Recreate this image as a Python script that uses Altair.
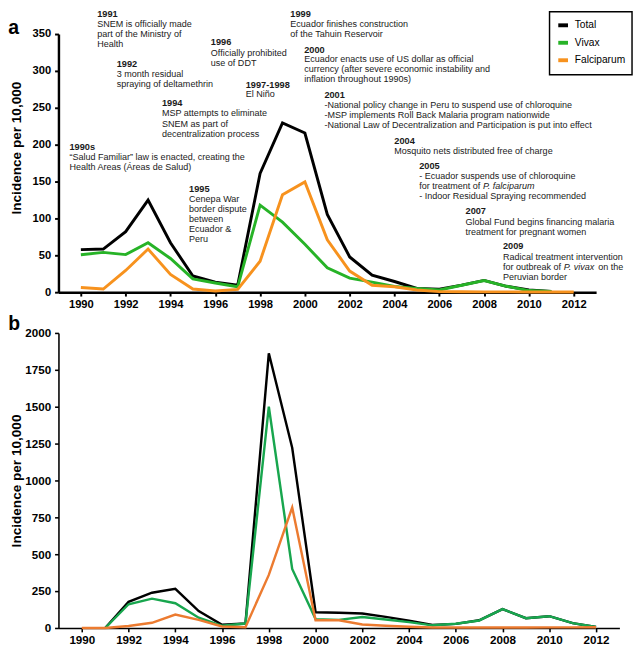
import altair as alt
import pandas as pd

FONT = "Liberation Sans"

years = list(range(1990, 2013))
series_names = ["Total", "Vivax", "Falciparum"]

# Panel a (incidence per 10,000)
total_a = [57.7, 58.5, 82, 124.8, 67, 22, 13.7, 9.4, 161, 229.5, 215.8, 105.5, 47.8, 23, 14.5, 5, 4, 9.5, 16, 8, 3, 1, None]
vivax_a = [50.8, 54, 51, 67, 45.7, 18, 12.4, 7.3, 118, 95, 65, 33, 19, 13.7, 7.7, 5, 3, 9.4, 15.8, 8, 2.2, 1, None]
falci_a = [6.4, 4.3, 29.5, 58.5, 24, 4.3, 1.7, 3.8, 42, 132, 149.5, 71, 28.6, 9.4, 7.3, 3, 0.8, 0.5, 0.4, 0.4, 0.3, 0.3, 0.3]

# Panel b (incidence per 10,000)
total_b = [None, 0, 177, 239, 265, 115, 22, 30, 1862, 1222, 107, 103, 98, 75, 50, 20, 28, 52, 128, 66, 80, 33, 7]
vivax_b = [None, 0, 161, 199, 168, 70, 15, 30, 1500, 400, 60, 55, 75, 58, 40, 18, 29, 51, 128, 66, 80, 33, 7]
falci_b = [0, 0, 13, 35, 91, 55, 10, 5, 360, 817, 52, 52, 24, 15, 8, 3, 3, 3, 3, 3, 4, 4, 5]

colors_a = ["#000000", "#27b327", "#f7921e"]
colors_b = ["#000000", "#18a64e", "#ec7b30"]

# Panel letters (placed in each panel's data space)
letter_a = {"text": ["a"], "year": [1987.0], "value": [358]}
letter_b = {"text": ["b"], "year": [1987.1], "value": [2062]}

# Annotations of panel a: headers
head_text = ["1991", "1992", "1996", "1997-1998", "1994", "1990s", "1995",
             "1999", "2000", "2001", "2004", "2005", "2007", "2009"]
head_year = [1990.73, 1991.6, 1995.8, 1997.36, 1993.62, 1989.49, 1994.83,
             1999.35, 1999.97, 2000.87, 2003.99, 2005.1, 2007.17, 2008.84]
head_value = [377, 309, 338.5, 280.8, 256.4, 196.2, 139.7,
              377, 328.6, 267, 204.7, 170.9, 109.9, 62.8]

# Annotation body lines
body_text = [
    "SNEM is officially made", "part of the Ministry of", "Health",
    "3 month residual", "spraying of deltamethrin",
    "Officially prohibited", "use of DDT",
    "El Niño",
    "MSP attempts to eliminate", "SNEM as part of", "decentralization process",
    "\u201cSalud Familiar\u201d law is enacted, creating the", "Health Areas (Áreas de Salud)",
    "Cenepa War", "border dispute", "between", "Ecuador &", "Peru",
    "Ecuador finishes construction", "of the Tahuin Reservoir",
    "Ecuador enacts use of US dollar as official",
    "currency (after severe economic instability and",
    "inflation throughout 1990s)",
    "-National policy change in Peru to suspend use of chloroquine",
    "-MSP implements Roll Back Malaria program nationwide",
    "-National Law of Decentralization and Participation is put into effect",
    "Mosquito nets distributed free of charge",
    "- Ecuador suspends use of chloroquine", "for treatment of",
    "- Indoor Residual Spraying recommended",
    "Global Fund begins financing malaria", "treatment for pregnant women",
    "Radical treatment intervention", "for outbreak of", "on the", "Peruvian border",
]
body_year = [
    1990.73, 1990.73, 1990.73,
    1991.6, 1991.6,
    1995.8, 1995.8,
    1997.36,
    1993.62, 1993.62, 1993.62,
    1989.49, 1989.49,
    1994.83, 1994.83, 1994.83, 1994.83, 1994.83,
    1999.35, 1999.35,
    1999.97, 1999.97, 1999.97,
    2000.87, 2000.87, 2000.87,
    2003.99,
    2005.1, 2005.1, 2005.1,
    2007.17, 2007.17,
    2008.84, 2008.84, 2013.09, 2008.84,
]
body_value = [
    363.2, 350, 336.8,
    295.8, 282,
    324.4, 310.3,
    268,
    242.3, 228.2, 214.5,
    183.3, 169.6,
    125.6, 112, 98.7, 85.5, 71.8,
    363.2, 350.4,
    315.4, 302.2, 288.8,
    253.5, 239.7, 226.5,
    191,
    157.3, 143.6, 129.9,
    95.3, 82,
    47.8, 34.6, 34.6, 20.5,
]

# Italic species names
ital_text = ["P. falciparum", "P. vivax"]
ital_year = [2007.95, 2011.56]
ital_value = [143.6, 34.6]


def long_df(t, v, f):
    rows = []
    for name, vals in zip(series_names, [t, v, f]):
        for yr, val in zip(years, vals):
            if val is not None:
                rows.append({"year": yr, "value": val, "series": name})
    return pd.DataFrame(rows)


df_a = long_df(total_a, vivax_a, falci_a)
df_b = long_df(total_b, vivax_b, falci_b)
df_head = pd.DataFrame({"year": head_year, "value": head_value, "text": head_text})
df_body = pd.DataFrame({"year": body_year, "value": body_value, "text": body_text})
df_ital = pd.DataFrame({"year": ital_year, "value": ital_value, "text": ital_text})

HA, HB = 266, 304

# ---------- Panel a ----------
xa = alt.X("year:Q", scale=alt.Scale(domain=[1989, 2013], nice=False, zero=False),
           axis=alt.Axis(values=list(range(1990, 2013, 2)), format="d", title=None,
                         labelFontSize=11.5, domainWidth=2.5, tickWidth=2, tickSize=4,
                         labelPadding=3, labelFlush=False))
ya = alt.Y("value:Q", scale=alt.Scale(domain=[0, 350], nice=False),
           axis=alt.Axis(values=list(range(0, 351, 50)), format="d",
                         title="Incidence per 10,000", titleX=-36, titleY=117,
                         titleFontSize=14, labelFontSize=11.5, domainWidth=2.5,
                         tickWidth=2, tickSize=4, labelPadding=4))

legend_a = alt.Legend(orient="none", legendX=506, legendY=-23, title=None,
                      strokeColor="black", fillColor="white", padding=7,
                      symbolType="stroke", symbolStrokeWidth=4, symbolSize=100,
                      labelFontSize=10.5, labelFont=FONT, labelFontWeight="normal",
                      rowPadding=2, labelOffset=5, cornerRadius=0)

layers_a = []
for name in series_names:
    layers_a.append(
        alt.Chart(df_a).transform_filter(alt.datum.series == name)
        .mark_line(strokeWidth=3)
        .encode(x=xa, y=ya,
                color=alt.Color("series:N",
                                scale=alt.Scale(domain=series_names, range=colors_a),
                                legend=legend_a))
    )

heads = alt.Chart(df_head).mark_text(align="left", baseline="middle", font=FONT,
                                     fontSize=9.5, fontWeight="bold", color="#1a1a1a"
                                     ).encode(x=xa, y=ya, text="text:N")
bodies = alt.Chart(df_body).mark_text(align="left", baseline="middle", font=FONT,
                                      fontSize=9.3, color="#1a1a1a"
                                      ).encode(x=xa, y=ya, text="text:N")
itals = alt.Chart(df_ital).mark_text(align="left", baseline="middle", font=FONT,
                                     fontSize=9.3, fontStyle="italic", color="#1a1a1a"
                                     ).encode(x=xa, y=ya, text="text:N")
tag_a = alt.Chart(pd.DataFrame(letter_a)).mark_text(
    align="center", baseline="middle", font=FONT, fontSize=20, fontWeight="bold",
    color="black").encode(x=xa, y=ya, text="text:N")

panel_a = alt.layer(*layers_a, heads, bodies, itals, tag_a).properties(width=554, height=HA)

# ---------- Panel b ----------
xb = alt.X("year:Q", scale=alt.Scale(domain=[1989, 2013], nice=False, zero=False),
           axis=alt.Axis(values=list(range(1990, 2013, 2)), format="d", title=None,
                         labelFontSize=12, domainWidth=1.6, tickWidth=1.6, tickSize=4,
                         labelPadding=3, labelFlush=False))
yb = alt.Y("value:Q", scale=alt.Scale(domain=[0, 2000], nice=False),
           axis=alt.Axis(values=list(range(0, 2001, 250)), format="d",
                         title="Incidence per 10,000", titleX=-36,
                         titleFontSize=14, labelFontSize=12, domainWidth=1.6,
                         tickWidth=1.6, tickSize=4, labelPadding=4))

layers_b = []
for name in series_names:
    layers_b.append(
        alt.Chart(df_b).transform_filter(alt.datum.series == name)
        .mark_line(strokeWidth=2.5)
        .encode(x=xb, y=yb,
                color=alt.Color("series:N",
                                scale=alt.Scale(domain=series_names, range=colors_b),
                                legend=None))
    )
tag_b = alt.Chart(pd.DataFrame(letter_b)).mark_text(
    align="center", baseline="middle", font=FONT, fontSize=20, fontWeight="bold",
    color="black").encode(x=xb, y=yb, text="text:N")

panel_b = alt.layer(*layers_b, tag_b).properties(width=578, height=HB)

chart = (
    alt.vconcat(panel_a, panel_b, spacing=3)
    .resolve_scale(color="independent")
    .properties(padding={"left": 0, "top": -9, "right": 0, "bottom": 0})
    .configure_view(stroke=None)
    .configure_axis(grid=False, labelFont=FONT, labelFontWeight="bold",
                    titleFont=FONT, titleFontWeight="bold", labelColor="black",
                    titleColor="black", domainColor="black", tickColor="black")
    .configure_legend(strokeWidth=1.5)
)

chart.save("out.html", embed_options={"renderer": "svg", "actions": False})
